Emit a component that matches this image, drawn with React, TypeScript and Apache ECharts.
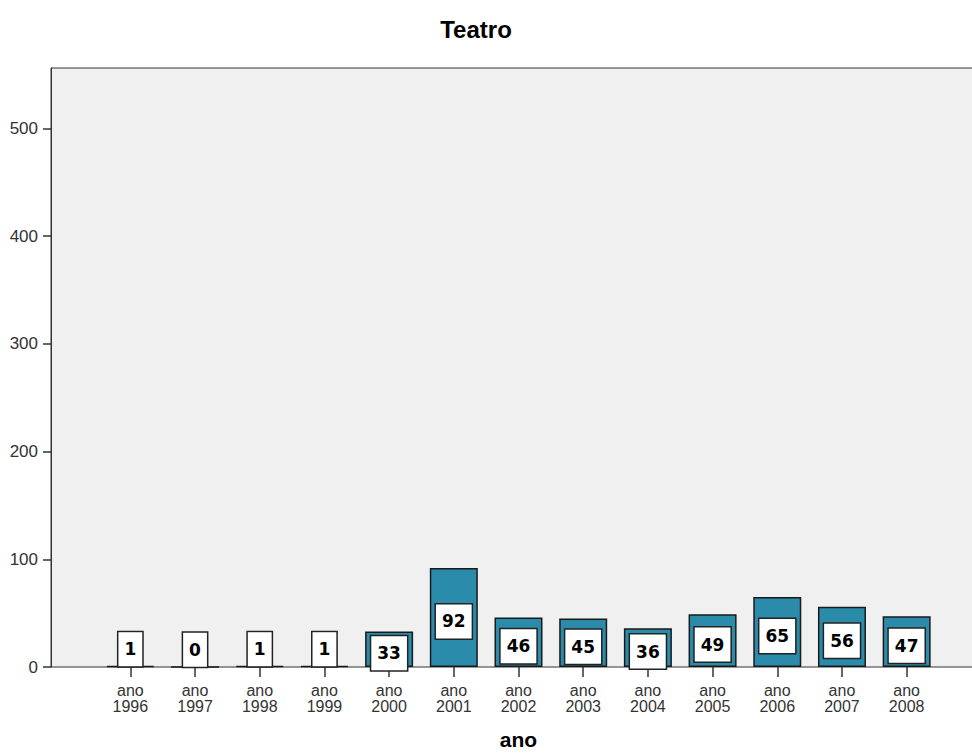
import React, { useEffect, useRef } from "react";
import * as echarts from "echarts";

const title = "Teatro";
const axisName = "ano";
const years = ["1996", "1997", "1998", "1999", "2000", "2001", "2002", "2003", "2004", "2005", "2006", "2007", "2008"];
const categories = years.map((y) => "ano\n" + y);
const counts = [1, 0, 1, 1, 33, 92, 46, 45, 36, 49, 65, 56, 47];
const yTicks = [0, 100, 200, 300, 400, 500];
const yMax = 556;

export default function App() {
  const ref = useRef<HTMLDivElement>(null);
  useEffect(() => {
    if (!ref.current) return;
    const chart = echarts.init(ref.current, null, { renderer: "svg" });
    const font = "'Liberation Sans', Arial, sans-serif";
    const top = 68;
    const bottom = 86;
    const data = counts.map((v) => {
      const small = v < 5;
      return {
        value: v,
        label: small
          ? { position: "insideBottom", distance: 1, offset: [0, 0] }
          : { position: "inside", offset: [0, 4] },
      };
    });
    chart.setOption({
      animation: false,
      backgroundColor: "#ffffff",
      title: {
        text: title,
        left: 471,
        top: 12,
        textAlign: "center",
        textStyle: { fontFamily: font, fontSize: 24, fontWeight: "bold", color: "#000" },
      },
      grid: [
        {
          left: 51,
          right: -2,
          top,
          bottom,
          show: true,
          backgroundColor: "#f0f0f0",
          borderColor: "#333",
          borderWidth: 1,
          outerBoundsMode: "none",
          containLabel: false,
        },
        { left: 98, right: 33, top, bottom, show: false, outerBoundsMode: "none", containLabel: false },
      ],
      xAxis: [
        { type: "value", gridIndex: 0, show: false, min: 0, max: 1 },
        {
          type: "category",
          gridIndex: 1,
          data: categories,
          boundaryGap: true,
          axisLine: { show: false },
          axisTick: { show: true, alignWithLabel: true, length: 10, lineStyle: { color: "#333", width: 1.5 } },
          axisLabel: {
            interval: 0,
            margin: 15,
            fontFamily: font,
            fontSize: 16,
            lineHeight: 16,
            color: "#333",
          },
          name: axisName,
          nameLocation: "middle",
          nameGap: 62,
          nameTextStyle: { fontFamily: font, fontSize: 21, fontWeight: "bold", color: "#000" },
        },
      ],
      yAxis: [
        {
          type: "value",
          gridIndex: 0,
          min: 0,
          max: yMax,
          interval: 100,
          splitLine: { show: false },
          axisLine: { show: true, lineStyle: { color: "#333", width: 1 } },
          axisTick: {
            show: true,
            length: 8,
            customValues: yTicks,
            lineStyle: { color: "#333", width: 1.5 },
          },
          axisLabel: {
            margin: 13,
            fontFamily: font,
            fontSize: 17,
            color: "#333",
            customValues: yTicks,
          },
        },
        { type: "value", gridIndex: 1, min: 0, max: yMax, show: false },
      ],
      series: [
        {
          type: "bar",
          xAxisIndex: 1,
          yAxisIndex: 1,
          data,
          barWidth: 48,
          itemStyle: { color: "#2b8bab", borderColor: "#1a1a1a", borderWidth: 1.5 },
          label: {
            show: true,
            fontFamily: "'DejaVu Sans', sans-serif",
            fontWeight: "bold",
            fontSize: 17,
            lineHeight: 18,
            color: "#000",
            backgroundColor: "#ffffff",
            borderColor: "#222",
            borderWidth: 1.5,
            padding: [8, 6, 8, 6],
          },
        },
      ],
    });
    return () => chart.dispose();
  }, []);
  return (
    <div
      ref={ref}
      style={{ position: "fixed", left: 0, top: 0, width: 972, height: 753, background: "#fff" }}
    />
  );
}
